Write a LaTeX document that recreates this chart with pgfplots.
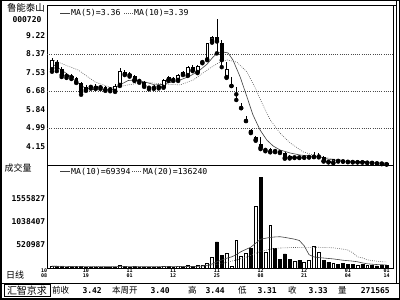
\documentclass[border=0pt]{standalone}
\usepackage{fontspec}
\usepackage{pgfplots}
\usepackage{pgfplotstable}
\pgfplotsset{compat=1.18}
\setmainfont{DejaVu Sans}
\newfontfamily\mono{DejaVu Sans Mono}
\newfontfamily\cjk{Noto Sans CJK SC}
\newcommand\tf{\mono\bfseries\fontsize{8}{8}\selectfont}
\newcommand\lf{\mono\fontsize{8.2}{8.2}\selectfont}

\pgfplotstableread{
i O H L C V
0 7.67 8.17 7.55 8.08 40
3 7.36 7.49 7.27 7.40 25
4 7.31 7.45 7.22 7.36 20
7 6.73 6.95 6.68 6.86 25
8 6.86 6.95 6.78 6.88 20
10 6.84 6.93 6.77 6.86 18
12 6.75 6.84 6.66 6.77 18
13 6.68 6.97 6.63 6.91 25
14 6.95 7.72 6.90 7.58 55
16 7.40 7.52 7.33 7.42 25
21 6.82 6.93 6.77 6.84 20
22 6.86 6.95 6.79 6.91 22
23 6.86 7.22 6.82 7.18 40
25 7.18 7.31 7.13 7.27 28
26 7.18 7.45 7.13 7.40 35
28 7.40 7.81 7.36 7.76 60
30 7.54 7.85 7.49 7.81 55
31 7.99 8.08 7.94 8.02 70
32 8.12 8.88 8.08 8.84 110
33 8.98 9.20 8.88 9.11 250
36 7.31 7.99 7.27 7.67 340
37 6.90 7.31 6.90 6.90 30
38 6.52 6.85 6.26 6.54 630
39 5.89 6.12 5.89 5.90 270
40 5.30 5.52 5.30 5.30 340
42 4.45 4.62 4.40 4.55 1390
44 3.98 4.05 3.92 3.98 360
45 3.90 4.06 3.87 4.02 970
50 3.64 3.70 3.61 3.66 150
52 3.64 3.70 3.62 3.66 120
53 3.66 3.71 3.63 3.67 180
54 3.67 3.88 3.65 3.68 500
55 3.68 3.84 3.64 3.68 360
58 3.40 3.57 3.38 3.55 110
63 3.42 3.47 3.41 3.44 70
65 3.40 3.44 3.38 3.42 60
}\up

\pgfplotstableread{
i O H L C V
1 7.99 8.08 7.58 7.72 35
2 7.67 7.76 7.31 7.40 30
5 7.27 7.31 7.04 7.09 30
6 7.04 7.09 6.50 6.63 45
9 6.91 6.97 6.77 6.82 22
11 6.86 6.90 6.68 6.73 20
15 7.54 7.63 7.40 7.45 35
17 7.36 7.42 7.13 7.18 30
18 7.16 7.22 7.05 7.13 20
19 7.09 7.13 6.86 6.91 25
20 6.86 6.91 6.75 6.82 18
24 7.31 7.36 7.13 7.18 30
27 7.54 7.58 7.40 7.45 40
29 7.76 7.85 7.58 7.63 45
34 9.11 9.97 8.39 8.93 590
35 8.84 8.98 7.76 8.08 290
41 4.89 4.92 4.75 4.80 450
43 4.24 4.57 4.02 4.08 2050
46 3.96 4.00 3.88 3.93 450
47 3.92 3.95 3.84 3.88 200
48 3.85 3.90 3.58 3.62 320
49 3.70 3.73 3.59 3.63 200
51 3.66 3.69 3.61 3.64 170
56 3.66 3.70 3.45 3.48 180
57 3.47 3.49 3.41 3.44 130
59 3.53 3.55 3.45 3.48 90
60 3.48 3.50 3.44 3.46 100
61 3.46 3.48 3.42 3.44 80
62 3.44 3.46 3.41 3.43 90
64 3.45 3.47 3.40 3.42 80
66 3.42 3.43 3.37 3.39 55
67 3.39 3.41 3.35 3.37 50
68 3.37 3.39 3.33 3.36 55
69 3.36 3.37 3.31 3.33 51.5
}\dn

\pgfplotsset{
  wick/.style={only marks, mark=none, forget plot,
    error bars/y dir=plus, error bars/y explicit, error bars/error mark=none,
    error bars/error bar style={draw=black, line width=0.5pt}},
  body/.style={only marks, mark=none, forget plot,
    error bars/y dir=plus, error bars/y explicit,
    error bars/draw error bar/.code 2 args={%
      \path ##1 coordinate (cbbot);
      \path ##2 coordinate (cbtop);
      \draw[black, line width=0.5pt, fill=#1] ([xshift=-1.4pt]cbbot) rectangle ([xshift=1.4pt]cbtop);}},
  vbar/.style={ybar, bar width=2.9pt, bar shift=0pt, draw=black, fill=#1, line width=0.5pt, forget plot},
}

\begin{document}
\begin{tikzpicture}
\path[use as bounding box] (0pt,0pt) rectangle (400pt,300pt);

% price panel
\begin{axis}[
  at={(47pt,135pt)}, anchor=south west,
  width=346pt, height=160pt, scale only axis,
  xmin=-1.03, xmax=70.31, ymin=3.292, ymax=10.598,
  axis line style={line width=0.8pt},
  xtick=\empty,
  ytick={4.15,4.99,5.84,6.68,7.53,8.37,9.22},
  yticklabels={4.15,4.99,5.84,6.68,7.53,8.37,9.22},
  yticklabel style={font=\tf, inner sep=0pt, xshift=-1.5pt},
  major tick length=0pt, tick style={draw=none},
]
\addplot[black!70, line width=0.5pt, dash pattern=on 0.8pt off 1.4pt, forget plot] coordinates {(-1.03,8.37) (70.31,8.37)};
\addplot[black!70, line width=0.5pt, dash pattern=on 0.8pt off 1.4pt, forget plot] coordinates {(-1.03,6.68) (70.31,6.68)};
\addplot[black!70, line width=0.5pt, dash pattern=on 0.8pt off 1.4pt, forget plot] coordinates {(-1.03,4.99) (70.31,4.99)};
% moving averages
\addplot[black!75, line width=0.6pt, forget plot] coordinates {
(0,7.92) (2,7.62) (3.7,7.36) (5,7.10) (6.8,6.81) (8.5,6.74) (9.9,6.72) (12.4,6.72) (13.6,6.90) (15.7,7.15) (17.1,7.17) (19.2,7.08) (21.2,6.95) (22.7,6.97) (24.3,7.06) (26.4,7.17) (28.5,7.36) (30.5,7.63) (32,7.90) (33.2,8.22) (34.2,8.41) (35.3,8.45) (36.3,8.41) (37.3,8.09) (38.8,7.31) (40.2,6.40) (41.4,5.60) (42.9,4.89) (44.3,4.43) (45.6,4.16) (47,3.98) (49.1,3.84) (51.1,3.75) (53.2,3.70) (55.3,3.66) (56.7,3.57) (57.9,3.52) (60.4,3.47) (63.5,3.45) (66.6,3.41) (69,3.36)};
\addplot[black!65, line width=0.6pt, dash pattern=on 0.8pt off 1.3pt, forget plot] coordinates {
(0,8.10) (2.7,7.86) (5.4,7.63) (8.9,7.08) (12.4,6.81) (15.7,6.95) (19.2,7.08) (22.7,6.99) (26.4,6.95) (29.1,7.17) (32.6,7.72) (34.6,7.99) (36.1,8.09) (38.1,7.99) (40.2,7.54) (41.9,6.81) (43.3,6.12) (45,5.35) (47,4.75) (49.1,4.30) (51.8,3.89) (54.6,3.70) (57.9,3.57) (61.4,3.47) (65.6,3.42) (69,3.39)};
% candles
\addplot[wick] table[x=i, y=L, y error plus expr=\thisrow{H}-\thisrow{L}] {\up};
\addplot[wick] table[x=i, y=L, y error plus expr=\thisrow{H}-\thisrow{L}] {\dn};
\addplot[body=white] table[x=i, y=O, y error plus expr=\thisrow{C}-\thisrow{O}] {\up};
\addplot[body=black] table[x=i, y=C, y error plus expr=\thisrow{O}-\thisrow{C}] {\dn};
\end{axis}

% volume panel
\begin{axis}[
  at={(47pt,32pt)}, anchor=south west,
  width=346pt, height=103pt, scale only axis,
  xmin=-1.03, xmax=70.31, ymin=0, ymax=2322,
  axis line style={line width=0.8pt},
  major tick length=0pt, tick style={draw=none},
  ytick={520.987,1038.407,1555.827},
  yticklabels={520987,1038407,1555827},
  yticklabel style={font=\tf, inner sep=0pt, xshift=-1.5pt},
  xtick={7,16,25,34,43,52,61,69},
  xticklabels={{10\\19},{11\\01},{11\\12},{11\\25},{12\\08},{12\\21},{01\\04},{01\\14}},
  xticklabel style={font=\mono\bfseries\fontsize{5}{4.6}\selectfont, align=center, inner sep=0pt, yshift=-0.6pt},
  extra x ticks={-1.0},
  extra x tick labels={{10\\08}},
  extra x tick style={xticklabel style={xshift=-3pt}},
]
\addplot[vbar=white] table[x=i, y=V] {\up};
\addplot[vbar=black] table[x=i, y=V] {\dn};
\addplot[black!75, line width=0.6pt, forget plot] coordinates {
(0,40) (5,32) (10,28) (15,30) (20,28) (25,30) (30,38) (31,45) (32,60) (33,90) (34,140) (35,180) (36,220) (37,250) (38,300) (39,370) (40,420) (41,470) (42,560) (43,650) (44,670) (45,690) (46,700) (47,705) (48,690) (49,670) (50,650) (51,620) (52,500) (53,300) (54,250) (55,235) (56,225) (57,215) (58,205) (59,190) (60,175) (61,165) (62,155) (63,140) (64,115) (65,95) (66,85) (67,78) (68,73) (69,69.4)};
\addplot[black!65, line width=0.6pt, dash pattern=on 0.8pt off 1.3pt, forget plot] coordinates {
(0,40) (10,33) (20,30) (30,35) (32,50) (34,80) (36,130) (38,180) (40,240) (42,330) (43,380) (44,400) (45,425) (46,440) (47,450) (48,455) (50,462) (52,465) (55,468) (58,455) (60,425) (61,405) (62,345) (63,250) (64,228) (65,185) (66,165) (67,155) (68,142) (69,136.2)};
\end{axis}

\begin{scope}[x=1pt, y=1pt]
% frames
\draw[line width=1.5pt] (0.75,0.75) rectangle (399.25,299.25);
\draw[line width=0.8pt] (396.5,17) -- (396.5,299.2);
\draw[line width=0.8pt] (47,295) -- (396.5,295);
\draw[line width=0.8pt] (0,17) -- (400,17);
\draw[line width=0.8pt] (4,3.5) rectangle (50,15.5);
% left titles
\node[font=\cjk\fontsize{9.5}{9.5}\selectfont, inner sep=0pt] at (26,292) {鲁能泰山};
\node[font=\tf, inner sep=0pt] at (27,280.5) {000720};
\node[font=\cjk\fontsize{9}{9}\selectfont, inner sep=0pt, anchor=west] at (4.5,132) {成交量};
\node[font=\cjk\fontsize{9}{9}\selectfont, inner sep=0pt, anchor=west] at (6,25) {日线};
% legends
\draw[black!75, line width=0.6pt] (60,287) -- (70,287);
\node[font=\lf, inner sep=0pt, anchor=west] at (71,287) {MA(5)=3.36};
\draw[black!65, line width=0.6pt, dash pattern=on 0.8pt off 1.3pt] (124,287) -- (133,287);
\node[font=\lf, inner sep=0pt, anchor=west] at (134,287) {MA(10)=3.39};
\draw[black!75, line width=0.6pt] (60,128.5) -- (70,128.5);
\node[font=\lf, inner sep=0pt, anchor=west] at (71,128.5) {MA(10)=69394};
\draw[black!65, line width=0.6pt, dash pattern=on 0.8pt off 1.3pt] (132,128.5) -- (142,128.5);
\node[font=\lf, inner sep=0pt, anchor=west] at (143,128.5) {MA(20)=136240};
% status bar
\node[font=\cjk\fontsize{10}{10}\selectfont, inner sep=0pt] at (27,9.5) {汇智京求};
\node[font=\cjk\fontsize{8.5}{8.5}\selectfont, inner sep=0pt, anchor=west] at (52,9.5) {前收};
\node[font=\tf, inner sep=0pt, anchor=east] at (102,9.5) {3.42};
\node[font=\cjk\fontsize{8.5}{8.5}\selectfont, inner sep=0pt, anchor=west] at (112,9.5) {本周开};
\node[font=\tf, inner sep=0pt, anchor=east] at (170,9.5) {3.40};
\node[font=\cjk\fontsize{8.5}{8.5}\selectfont, inner sep=0pt, anchor=west] at (188,9.5) {高};
\node[font=\tf, inner sep=0pt, anchor=east] at (225,9.5) {3.44};
\node[font=\cjk\fontsize{8.5}{8.5}\selectfont, inner sep=0pt, anchor=west] at (238,9.5) {低};
\node[font=\tf, inner sep=0pt, anchor=east] at (277,9.5) {3.31};
\node[font=\cjk\fontsize{8.5}{8.5}\selectfont, inner sep=0pt, anchor=west] at (288,9.5) {收};
\node[font=\tf, inner sep=0pt, anchor=east] at (328,9.5) {3.33};
\node[font=\cjk\fontsize{8.5}{8.5}\selectfont, inner sep=0pt, anchor=west] at (338,9.5) {量};
\node[font=\tf, inner sep=0pt, anchor=east] at (390,9.5) {271565};
\end{scope}
\end{tikzpicture}
\end{document}
